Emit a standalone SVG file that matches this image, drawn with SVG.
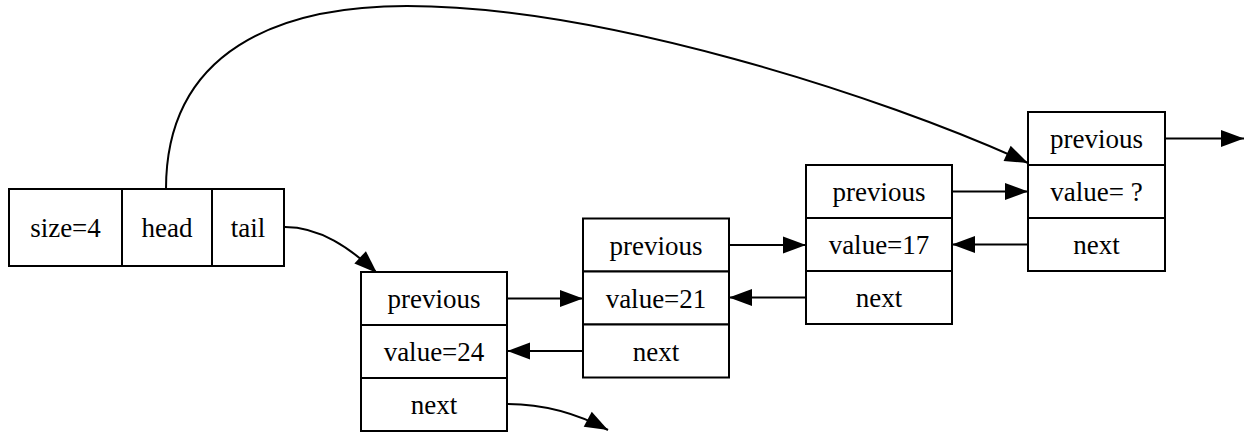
<svg xmlns="http://www.w3.org/2000/svg" width="1246" height="433" viewBox="0 0 1246 433">
<style>
.box{fill:#fff;stroke:#000;stroke-width:2}
.t{font-family:"Liberation Serif","Times New Roman",serif;font-size:27px;text-anchor:middle;fill:#000}
.e{fill:none;stroke:#000;stroke-width:2;marker-end:url(#ah)}
</style>
<defs>
<marker id="ah" markerUnits="userSpaceOnUse" markerWidth="24" markerHeight="17" refX="23" refY="8.5" orient="auto" overflow="visible">
<path d="M0,0 L23,8.5 L0,17 Z" fill="#000"/>
</marker>
</defs>
<rect width="1246" height="433" fill="#fff"/>
<g id="edges">
<path class="e" d="M166,189 C166,50 280,6 407,6 C600,6 880,95 1028,163"/>
<path class="e" d="M285,227 C320,227 350,248 377,273"/>
<path class="e" d="M507,298.5 L583,298.5"/>
<path class="e" d="M583,351 L507,351"/>
<path class="e" d="M729,245 L806,245"/>
<path class="e" d="M806,297.5 L729,297.5"/>
<path class="e" d="M952,191.5 L1028,191.5"/>
<path class="e" d="M1028,244.5 L952,244.5"/>
<path class="e" d="M1165,138.5 L1244,138.5"/>
<path class="e" d="M507,404 C545,404 580,415 608,430"/>
</g>
<g id="list">
<rect class="box" x="9" y="189" width="113" height="77"/>
<rect class="box" x="122" y="189" width="90" height="77"/>
<rect class="box" x="212" y="189" width="72" height="77"/>
<text class="t" x="65.5" y="237">size=4</text>
<text class="t" x="167" y="237">head</text>
<text class="t" x="248" y="237">tail</text>
</g>
<g id="node1">
<rect class="box" x="361" y="272" width="146" height="53"/>
<rect class="box" x="361" y="325" width="146" height="53"/>
<rect class="box" x="361" y="378" width="146" height="53"/>
<text class="t" x="434" y="308">previous</text>
<text class="t" x="434" y="361">value=24</text>
<text class="t" x="434" y="414">next</text>
</g>
<g id="node2">
<rect class="box" x="583" y="218.5" width="146" height="53"/>
<rect class="box" x="583" y="271.5" width="146" height="53"/>
<rect class="box" x="583" y="324.5" width="146" height="53"/>
<text class="t" x="656" y="254.5">previous</text>
<text class="t" x="656" y="307.5">value=21</text>
<text class="t" x="656" y="360.5">next</text>
</g>
<g id="node3">
<rect class="box" x="806" y="165" width="146" height="53"/>
<rect class="box" x="806" y="218" width="146" height="53"/>
<rect class="box" x="806" y="271" width="146" height="53"/>
<text class="t" x="879" y="201">previous</text>
<text class="t" x="879" y="254">value=17</text>
<text class="t" x="879" y="307">next</text>
</g>
<g id="node4">
<rect class="box" x="1028" y="112" width="137" height="53"/>
<rect class="box" x="1028" y="165" width="137" height="53"/>
<rect class="box" x="1028" y="218" width="137" height="53"/>
<text class="t" x="1096.5" y="148">previous</text>
<text class="t" x="1096.5" y="201">value= ?</text>
<text class="t" x="1096.5" y="254">next</text>
</g>
</svg>
